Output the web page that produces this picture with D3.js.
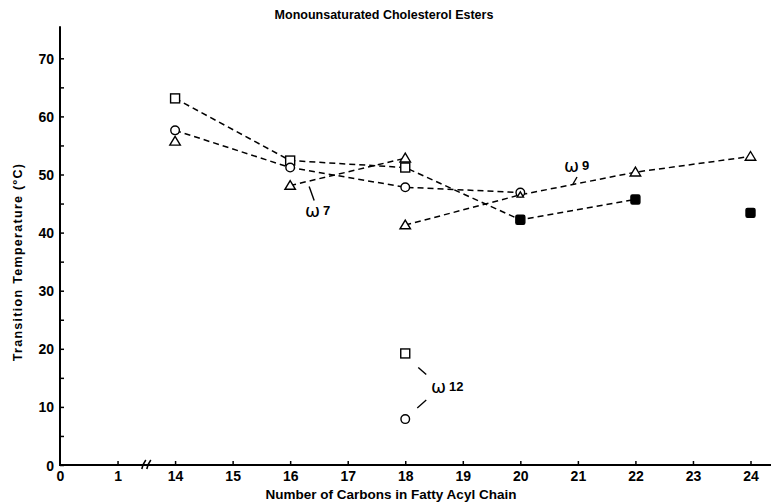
<!DOCTYPE html>
<html><head><meta charset="utf-8">
<script src="https://cdn.jsdelivr.net/npm/d3@7"></script>
<style>
html,body{margin:0;padding:0;background:#fff;}
svg{display:block;}
text{font-family:"Liberation Sans",Arial,sans-serif;font-weight:bold;fill:#000;}
</style></head>
<body>
<svg id="chart" width="771" height="504"></svg>
<script>
// ---- data ----
const xLabels = ["0","1","14","15","16","17","18","19","20","21","22","23","24"];
const yTicks = [0,5,10,15,20,25,30,35,40,45,50,55,60,65,70];
const yLabelTicks = [0,10,20,30,40,50,60,70];

// squares (open then filled)
const sqCarbons = [14,16,18,20,22,24];
const sqValues  = [63.1,52.4,51.2,42.2,45.7,43.4];
const sqFilled  = [false,false,false,true,true,true];
const sqLineCarbons = [14,16,18,20,22];
const sqLineValues  = [63.1,52.4,51.2,42.2,45.7];

// circles
const ciCarbons = [14,16,18,20];
const ciValues  = [57.6,51.2,47.8,46.9];

// triangles
const tri14Carbons = [14];
const tri14Values  = [55.7];
const w7Carbons = [16,18];
const w7Values  = [48.1,52.8];
const w9Carbons = [18,20,22,24];
const w9Values  = [41.3,46.5,50.4,53.1];

// omega-12 points
const w12SqCarbons = [18]; const w12SqValues = [19.2];
const w12CiCarbons = [18]; const w12CiValues = [7.9];

const title = "Monounsaturated Cholesterol Esters";
const xTitle = "Number of Carbons in Fatty Acyl Chain";
const yTitle = "Transition Temperature (ºC)";

// ---- chart ----
const svg = d3.select("#chart");
const x = d3.scalePoint().domain(xLabels).range([60, 750.5]);
const y = d3.scaleLinear().domain([0,70]).range([465, 58.3]);
const xc = c => x(String(c));

// axes
const yAxis = d3.axisLeft(y).tickValues(yTicks).tickSize(-4).tickPadding(6)
  .tickFormat(d => yLabelTicks.includes(d) ? d : "");
const gy = svg.append("g").attr("transform","translate(60,0)").call(yAxis);
gy.select(".domain").remove();
gy.selectAll(".tick line").attr("stroke","#000").attr("stroke-width",1.5);
gy.selectAll(".tick text").style("font-size","14px").style("font-family","'Liberation Sans',Arial,sans-serif").style("font-weight","bold")
  .attr("fill","#000").attr("dy","0.36em");

const xAxis = d3.axisBottom(x).tickSize(-4).tickPadding(6);
const gx = svg.append("g").attr("transform","translate(0,465)").call(xAxis);
gx.select(".domain").remove();
gx.selectAll(".tick line").attr("stroke","#000").attr("stroke-width",1.5);
gx.selectAll(".tick").filter(d => d === "0").select("line").remove();
gx.selectAll(".tick text").style("font-size","14px").style("font-family","'Liberation Sans',Arial,sans-serif").style("font-weight","bold")
  .attr("fill","#000");

// axis lines
svg.append("line").attr("x1",60).attr("x2",60).attr("y1",y(0)+1).attr("y2",y(75.5))
  .attr("stroke","#000").attr("stroke-width",2);
svg.append("line").attr("x1",59).attr("x2",771).attr("y1",y(0)).attr("y2",y(0))
  .attr("stroke","#000").attr("stroke-width",2);

// axis break
const bx = (x("1") + x("14")) / 2;
[-2.5, 2.5].forEach(o => {
  svg.append("path")
    .attr("d", `M${bx+o-2},${y(0)+4} Q${bx+o-1},${y(0)-1} ${bx+o+2},${y(0)-5}`)
    .attr("fill","none").attr("stroke","#000").attr("stroke-width",1.6);
});

// titles
svg.append("text").attr("x",384).attr("y",19).attr("text-anchor","middle")
  .style("font-size","12.5px").text(title);
svg.append("text").attr("x",391).attr("y",499).attr("text-anchor","middle")
  .style("font-size","13.5px").text(xTitle);
svg.append("text").attr("transform","translate(22,262) rotate(-90)").attr("text-anchor","middle")
  .style("font-size","12.5px").style("letter-spacing","1.3px").text(yTitle);

// dashed lines
const line = d3.line().x(d => xc(d[0])).y(d => y(d[1]));
const dash = "6,4";
function drawLine(cs, vs){
  svg.append("path").datum(d3.zip(cs, vs)).attr("d", line)
    .attr("fill","none").attr("stroke","#000").attr("stroke-width",1.5)
    .attr("stroke-dasharray",dash);
}
drawLine(sqLineCarbons, sqLineValues);
drawLine(ciCarbons, ciValues);
drawLine(w7Carbons, w7Values);
drawLine(w9Carbons, w9Values);

// markers
function squares(cs, vs, filled){
  svg.append("g").selectAll("rect").data(d3.zip(cs, vs, filled)).join("rect")
    .attr("x", d => xc(d[0]) - 4.5).attr("y", d => y(d[1]) - 4.5)
    .attr("width", 9).attr("height", 9).attr("rx", d => d[2] ? 1.5 : 0)
    .attr("fill", d => d[2] ? "#000" : "#fff").attr("stroke","#000").attr("stroke-width",1.4);
}
function circles(cs, vs){
  svg.append("g").selectAll("circle").data(d3.zip(cs, vs)).join("circle")
    .attr("cx", d => xc(d[0])).attr("cy", d => y(d[1])).attr("r", 4.3)
    .attr("fill","#fff").attr("stroke","#000").attr("stroke-width",1.4);
}
function triangles(cs, vs, s){
  const sz = s || 5;
  svg.append("g").selectAll("path").data(d3.zip(cs, vs)).join("path")
    .attr("d", d => { const cx = xc(d[0]), cy = y(d[1]);
      return `M${cx},${cy-sz} L${cx+sz*1.05},${cy+sz*0.75} L${cx-sz*1.05},${cy+sz*0.75}Z`; })
    .attr("fill","#fff").attr("stroke","#000").attr("stroke-width",1.4);
}
squares(sqCarbons, sqValues, sqFilled);
circles(ciCarbons, ciValues);
triangles(tri14Carbons, tri14Values);
triangles(w7Carbons, w7Values);
triangles(w9Carbons.filter(c => c !== 20), w9Values.filter((v,i) => w9Carbons[i] !== 20));
triangles([20], [w9Values[w9Carbons.indexOf(20)]], 3);
squares(w12SqCarbons, w12SqValues, [false]);
circles(w12CiCarbons, w12CiValues);

// omega labels with leader lines
function label(txt, num, tx, ty, leaders){
  leaders.forEach(l => svg.append("line").attr("x1",l[0]).attr("y1",l[1]).attr("x2",l[2]).attr("y2",l[3])
    .attr("stroke","#000").attr("stroke-width",1.4));
  const t = svg.append("text").attr("x",tx).attr("y",ty);
  t.append("tspan").style("font-size","18px").style("font-family","'DejaVu Sans',sans-serif").style("font-weight","normal").text(txt);
  t.append("tspan").attr("dx", 3).attr("dy", -2).style("font-size","13px").text(num);
}
const x18 = xc(18);
label("ω", "7", 305, 217, [[xc(16)+19, y(w7Values[0])+1, xc(16)+24, y(w7Values[0])+15]]);
label("ω", "9", 564, 172, [[573, 184, 577, 177]]);
label("ω", "12", 431, 393, [[x18+13, y(w12SqValues[0])+14, x18+21, y(w12SqValues[0])+21],
                            [x18+12, y(w12CiValues[0])-11, x18+21, y(w12CiValues[0])-19]]);
</script>
</body></html>
